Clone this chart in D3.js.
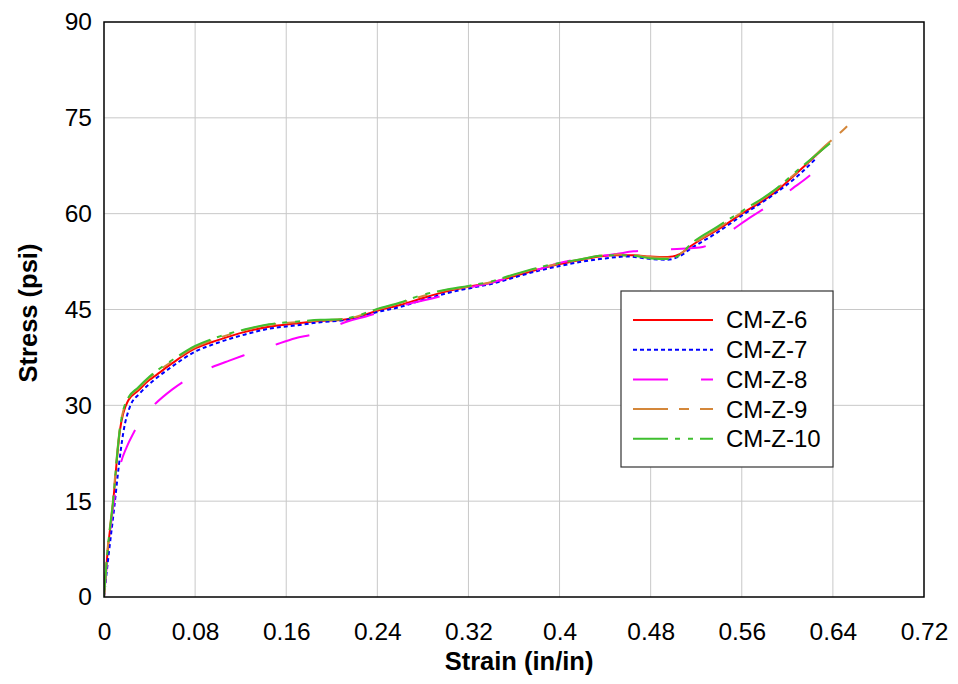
<!DOCTYPE html>
<html>
<head>
<meta charset="utf-8">
<script src="https://cdn.jsdelivr.net/npm/d3@7/dist/d3.min.js"></script>
<style>
  html, body { margin: 0; padding: 0; background: #fff; }
  svg { display: block; font-family: Arial, "Liberation Sans", sans-serif; }
</style>
</head>
<body>
<svg id="chart" width="958" height="684"></svg>
<script>
// Stress-strain curves for five compression specimens
const seriesNames = ["CM-Z-6", "CM-Z-7", "CM-Z-8", "CM-Z-9", "CM-Z-10"];

const strainZ6 = [0, 0.003, 0.008, 0.011, 0.014, 0.017, 0.0214, 0.03, 0.04, 0.0448, 0.06, 0.08, 0.1, 0.124, 0.145, 0.168, 0.19, 0.21, 0.22, 0.24, 0.26, 0.28, 0.3, 0.3185, 0.34, 0.36, 0.38, 0.4, 0.42, 0.435, 0.45, 0.465, 0.479, 0.495, 0.506, 0.515, 0.538, 0.561, 0.588, 0.611, 0.635];
const stressZ6 = [0, 6.8, 14.7, 20.9, 26.1, 28.8, 30.8, 32.3, 34.0, 34.6, 36.6, 38.9, 40.2, 41.5, 42.3, 42.8, 43.2, 43.4, 43.7, 44.8, 45.7, 46.8, 47.8, 48.5, 49.2, 50.2, 51.2, 52.1, 52.8, 53.3, 53.5, 53.5, 53.3, 53.2, 53.7, 54.9, 57.4, 60.1, 63.2, 66.8, 70.8];

const strainZ7 = [0, 0.004, 0.009, 0.013, 0.017, 0.0228, 0.0316, 0.045, 0.06, 0.08, 0.1, 0.124, 0.145, 0.168, 0.19, 0.21, 0.22, 0.24, 0.26, 0.28, 0.3, 0.32, 0.34, 0.36, 0.38, 0.4, 0.42, 0.44, 0.46, 0.48, 0.495, 0.506, 0.515, 0.538, 0.561, 0.588, 0.611, 0.626];
const stressZ7 = [0, 6.5, 14.0, 20.5, 25.8, 29.8, 31.9, 34.1, 36.1, 38.4, 39.8, 41.1, 42.0, 42.5, 43.0, 43.3, 43.6, 44.6, 45.4, 46.5, 47.5, 48.3, 49.0, 50.0, 51.0, 51.8, 52.5, 53.0, 53.3, 52.9, 52.8, 53.4, 54.5, 57.0, 59.8, 63.0, 66.2, 68.8];

const strainZ8 = [0, 0.004, 0.008, 0.014, 0.02, 0.0257, 0.035, 0.0448, 0.06, 0.0696, 0.08, 0.0951, 0.11, 0.1223, 0.149, 0.168, 0.185, 0.2, 0.215, 0.23, 0.25, 0.27, 0.28, 0.3, 0.32, 0.34, 0.36, 0.38, 0.4, 0.42, 0.45, 0.465, 0.479, 0.493, 0.507, 0.523, 0.532, 0.539, 0.552, 0.564, 0.59, 0.605, 0.615, 0.62];
const stressZ8 = [0, 8.0, 14.0, 20.4, 23.5, 25.6, 28.3, 30.2, 32.5, 33.7, 34.8, 36.0, 37.0, 37.8, 39.4, 40.5, 41.2, 42.2, 43.2, 43.9, 45.0, 46.0, 46.4, 47.3, 48.4, 49.2, 50.2, 51.2, 52.3, 53.0, 53.7, 54.1, 54.3, 54.4, 54.5, 54.7, 55.2, 56.0, 57.5, 59.0, 62.0, 64.0, 65.3, 66.0];

const strainZ9 = [0, 0.003, 0.008, 0.011, 0.014, 0.017, 0.021, 0.03, 0.04, 0.06, 0.08, 0.1, 0.124, 0.145, 0.168, 0.19, 0.21, 0.22, 0.24, 0.26, 0.28, 0.3, 0.32, 0.34, 0.36, 0.38, 0.4, 0.42, 0.435, 0.45, 0.465, 0.48, 0.495, 0.506, 0.515, 0.538, 0.561, 0.588, 0.611, 0.635, 0.646, 0.652, 0.658];
const stressZ9 = [0, 7.2, 15.3, 21.5, 26.5, 29.2, 31.0, 32.6, 34.3, 36.9, 39.1, 40.5, 41.8, 42.6, 43.0, 43.3, 43.5, 43.8, 45.0, 46.0, 47.1, 48.0, 48.6, 49.3, 50.4, 51.4, 52.2, 52.9, 53.4, 53.6, 53.5, 53.2, 53.1, 53.7, 55.0, 57.6, 60.3, 63.5, 66.9, 70.9, 72.6, 73.6, 74.6];

const strainZ10 = [0, 0.003, 0.008, 0.011, 0.014, 0.017, 0.021, 0.03, 0.04, 0.06, 0.08, 0.1, 0.124, 0.145, 0.168, 0.19, 0.21, 0.22, 0.24, 0.26, 0.28, 0.3, 0.32, 0.34, 0.36, 0.38, 0.4, 0.42, 0.435, 0.45, 0.465, 0.48, 0.495, 0.506, 0.515, 0.538, 0.561, 0.588, 0.611, 0.6375];
const stressZ10 = [0, 7.0, 15.0, 21.2, 26.4, 29.3, 31.1, 32.8, 34.5, 37.1, 39.3, 40.7, 41.9, 42.7, 43.1, 43.4, 43.5, 43.9, 45.1, 46.1, 47.3, 48.1, 48.7, 49.4, 50.5, 51.5, 52.3, 52.9, 53.4, 53.5, 53.4, 53.0, 52.9, 53.6, 55.2, 57.9, 60.5, 63.6, 67.1, 71.0];

const xTickValues = [0, 0.08, 0.16, 0.24, 0.32, 0.4, 0.48, 0.56, 0.64, 0.72];
const xTickLabels = ["0", "0.08", "0.16", "0.24", "0.32", "0.4", "0.48", "0.56", "0.64", "0.72"];
const yTickValues = [0, 15, 30, 45, 60, 75, 90];
const yTickLabels = ["0", "15", "30", "45", "60", "75", "90"];

const xTitle = "Strain (in/in)";
const yTitle = "Stress (psi)";

// Line styling per specimen
const styles = [
  { color: "#FF0000", dash: null },
  { color: "#0000FF", dash: "4,3" },
  { color: "#FF00FF", dash: "35,33" },
  { color: "#D4873A", dash: "35,11,10,11" },
  { color: "#3FBF2F", dash: "35,7,5,8,5,7" }
];

const series = [
  { name: seriesNames[0], strain: strainZ6, stress: stressZ6 },
  { name: seriesNames[1], strain: strainZ7, stress: stressZ7 },
  { name: seriesNames[2], strain: strainZ8, stress: stressZ8 },
  { name: seriesNames[3], strain: strainZ9, stress: stressZ9 },
  { name: seriesNames[4], strain: strainZ10, stress: stressZ10 }
].map((s, i) => ({
  name: s.name,
  style: styles[i],
  points: s.strain.map((x, j) => ({ x, y: s.stress[j] }))
}));

const svg = d3.select("#chart");
const margin = { left: 104, top: 22, right: 34, bottom: 87 };
const W = 958, H = 684;
const innerW = W - margin.left - margin.right;
const innerH = H - margin.top - margin.bottom;

const x = d3.scaleLinear().domain([0, 0.72]).range([0, innerW]);
const y = d3.scaleLinear().domain([0, 90]).range([innerH, 0]);

const g = svg.append("g").attr("transform", `translate(${margin.left},${margin.top})`);

// Gridlines
g.append("g")
  .selectAll("line.vgrid")
  .data(xTickValues.slice(1, -1))
  .join("line")
  .attr("x1", d => x(d)).attr("x2", d => x(d))
  .attr("y1", 0).attr("y2", innerH)
  .attr("stroke", "#c8c8c8").attr("stroke-width", 1);

g.append("g")
  .selectAll("line.hgrid")
  .data(yTickValues.slice(1, -1))
  .join("line")
  .attr("x1", 0).attr("x2", innerW)
  .attr("y1", d => y(d)).attr("y2", d => y(d))
  .attr("stroke", "#c8c8c8").attr("stroke-width", 1);

// Axes (labels only, no tick marks)
const xAxis = d3.axisBottom(x)
  .tickValues(xTickValues)
  .tickFormat((d, i) => xTickLabels[i])
  .tickSize(0).tickPadding(26);
const yAxis = d3.axisLeft(y)
  .tickValues(yTickValues)
  .tickFormat((d, i) => yTickLabels[i])
  .tickSize(0).tickPadding(12);

const gx = g.append("g").attr("transform", `translate(0,${innerH})`).call(xAxis);
const gy = g.append("g").call(yAxis);
[gx, gy].forEach(a => {
  a.select(".domain").remove();
  a.selectAll("text")
    .attr("font-family", "Arial, 'Liberation Sans', sans-serif")
    .attr("font-size", 24.5).attr("fill", "#000");
});

// Curves
const line = d3.line()
  .x(d => x(d.x))
  .y(d => y(d.y))
  .curve(d3.curveMonotoneX);

const clip = svg.append("defs").append("clipPath").attr("id", "plotclip");
clip.append("rect").attr("width", innerW).attr("height", innerH);

g.append("g").attr("clip-path", "url(#plotclip)")
  .selectAll("path.curve")
  .data(series)
  .join("path")
  .attr("class", "curve")
  .attr("d", d => line(d.points))
  .attr("fill", "none")
  .attr("stroke", d => d.style.color)
  .attr("stroke-width", 2)
  .attr("stroke-dasharray", d => d.style.dash);

// Plot frame
g.append("rect")
  .attr("width", innerW).attr("height", innerH)
  .attr("fill", "none").attr("stroke", "#000").attr("stroke-width", 1.5);

// Axis titles
svg.append("text")
  .attr("x", 519).attr("y", 670)
  .attr("text-anchor", "middle")
  .attr("font-weight", "bold").attr("font-size", 25.5)
  .text(xTitle);

svg.append("text")
  .attr("transform", `translate(37,313) rotate(-90)`)
  .attr("text-anchor", "middle")
  .attr("font-weight", "bold").attr("font-size", 25.5)
  .text(yTitle);

// Legend
const legend = svg.append("g").attr("transform", "translate(621,291)");
legend.append("rect")
  .attr("width", 212).attr("height", 176)
  .attr("fill", "#fff").attr("stroke", "#333").attr("stroke-width", 1.2);

const rows = legend.selectAll("g.row")
  .data(series)
  .join("g")
  .attr("class", "row")
  .attr("transform", (d, i) => `translate(0,${29 + i * 29.7})`);

rows.append("line")
  .attr("x1", 12).attr("x2", 92)
  .attr("stroke", d => d.style.color)
  .attr("stroke-width", 2)
  .attr("stroke-dasharray", d => d.style.dash);

rows.append("text")
  .attr("x", 105).attr("y", 0).attr("dy", "0.35em")
  .attr("font-size", 24)
  .text(d => d.name);
</script>
</body>
</html>
